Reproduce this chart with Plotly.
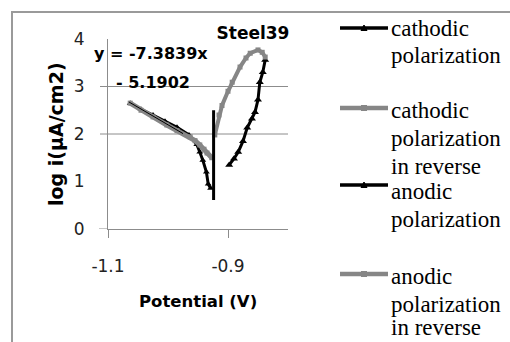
import plotly.graph_objects as go

# ---------------- data ----------------
cath_v = [-1.063, -1.045, -1.025, -1.005, -0.985, -0.965, -0.952, -0.947, -0.942, -0.936, -0.933, -0.929]
cath_log = [2.65, 2.52, 2.40, 2.27, 2.14, 1.98, 1.78, 1.62, 1.45, 1.20, 0.95, 0.86]

cath_rev_v = [-1.063, -1.045, -1.025, -1.002, -0.985, -0.963, -0.955, -0.947, -0.940, -0.935, -0.927]
cath_rev_log = [2.65, 2.50, 2.36, 2.19, 2.07, 1.94, 1.86, 1.77, 1.68, 1.60, 1.50]

anod_v = [-0.898, -0.890, -0.883, -0.875, -0.868, -0.860, -0.855, -0.850, -0.847, -0.842, -0.838]
anod_log = [1.35, 1.48, 1.62, 1.85, 2.13, 2.32, 2.46, 2.72, 3.09, 3.30, 3.56]

anod_rev_v = [-0.922, -0.915, -0.910, -0.900, -0.893, -0.880, -0.870, -0.863, -0.850, -0.843, -0.838]
anod_rev_log = [1.98, 2.40, 2.60, 2.90, 3.09, 3.41, 3.60, 3.70, 3.77, 3.72, 3.62]

ecorr_v = [-0.924, -0.924]
ecorr_log = [0.61, 2.50]

trend_slope = -7.3839
trend_intercept = -5.1902
trend_v = [-1.065, -0.975]
trend_log = [trend_slope * v + trend_intercept for v in trend_v]

series_names = [
    "cathodic polarization",
    "cathodic polarization in reverse",
    "anodic polarization",
    "anodic polarization in reverse",
]
legend_lines = [
    ["cathodic", "polarization"],
    ["cathodic", "polarization", "in reverse"],
    ["anodic", "polarization"],
    ["anodic", "polarization", "in reverse"],
]
chart_title = "Steel39"
x_title = "Potential (V)"
y_title = "log i(µA/cm2)"
eq_line1 = "y = -7.3839x"
eq_line2 = "- 5.1902"
x_ticks = [-1.1, -0.9]
x_tick_text = ["-1.1", "-0.9"]
y_ticks = [0, 1, 2, 3, 4]
grid_levels = [2, 3]

BLACK = "#000000"
GRAY = "#868686"
AXIS = "#8c8c8c"

# pixel helpers (plot area: x 108..288, y 39..229)
L, R, T, B = 108, 288, 39, 229
def px(x):
    return (x - L) / (R - L)
def py(y):
    return (B - y) / (B - T)

fig = go.Figure()
fig.add_trace(go.Scatter(x=cath_v, y=cath_log, name=series_names[0], mode="lines+markers",
                         line=dict(color=BLACK, width=3),
                         marker=dict(symbol="triangle-up", size=6, color=BLACK)))
fig.add_trace(go.Scatter(x=cath_rev_v, y=cath_rev_log, name=series_names[1], mode="lines+markers",
                         line=dict(color=GRAY, width=5),
                         marker=dict(symbol="square", size=5, color=GRAY)))
fig.add_trace(go.Scatter(x=anod_v, y=anod_log, name=series_names[2], mode="lines+markers",
                         line=dict(color=BLACK, width=3),
                         marker=dict(symbol="triangle-up", size=7, color=BLACK)))
fig.add_trace(go.Scatter(x=anod_rev_v, y=anod_rev_log, name=series_names[3], mode="lines+markers",
                         line=dict(color=GRAY, width=4),
                         marker=dict(symbol="square", size=5, color=GRAY)))
fig.add_trace(go.Scatter(x=trend_v, y=trend_log, mode="lines", showlegend=False,
                         line=dict(color=BLACK, width=1)))
fig.add_trace(go.Scatter(x=ecorr_v, y=ecorr_log, mode="lines", showlegend=False,
                         line=dict(color=BLACK, width=3)))

def bold(size):
    return dict(family="DejaVu Sans", size=size, color="black", weight="bold")

shapes = []
annotations = []
# outer chart border (top and left visible)
shapes.append(dict(type="rect", xref="paper", yref="paper", x0=px(12), x1=px(530), y0=py(360), y1=py(12),
                   line=dict(color="#9a9a9a", width=2), layer="below"))
for g in grid_levels:
    shapes.append(dict(type="line", xref="paper", yref="y", x0=px(100), x1=1, y0=g, y1=g,
                       line=dict(color=AXIS, width=1), layer="below"))
shapes.append(dict(type="line", xref="paper", yref="y", x0=px(99), x1=0, y0=0, y1=0,
                   line=dict(color=AXIS, width=1), layer="below"))

# manual legend (Excel-style, text overflowing the chart bottom)
sym_y = [28, 108, 185, 274]
txt_y = [28, 110, 191, 276]
line_step = 28
styles = [
    (BLACK, 3.5, "tri"),
    (GRAY, 4.5, "sq"),
    (BLACK, 3.5, "tri"),
    (GRAY, 4.5, "sq"),
]
for i, lines in enumerate(legend_lines):
    col, w, mk = styles[i]
    shapes.append(dict(type="line", xref="paper", yref="paper", x0=px(340), x1=px(388),
                       y0=py(sym_y[i]), y1=py(sym_y[i]), line=dict(color=col, width=w)))
    cx, cy = 364, sym_y[i]
    if mk == "tri":
        path = "M {} {} L {} {} L {} {} Z".format(px(cx - 3), py(cy + 2.5), px(cx + 3), py(cy + 2.5),
                                                    px(cx), py(cy - 3))
        shapes.append(dict(type="path", xref="paper", yref="paper", path=path,
                           fillcolor=col, line=dict(color=col, width=1)))
    else:
        shapes.append(dict(type="rect", xref="paper", yref="paper", x0=px(cx - 3), x1=px(cx + 3),
                           y0=py(cy + 3), y1=py(cy - 3), fillcolor=col, line=dict(color=col, width=0)))
    for j, t in enumerate(lines):
        yy = min(txt_y[i] + j * line_step, 327)
        annotations.append(dict(text=t, xref="paper", yref="paper", x=px(389), y=py(yy),
                                xanchor="left", yanchor="middle", showarrow=False,
                                font=dict(family="Liberation Serif", size=23, color="black")))

annotations += [
    dict(text=eq_line1, xref="paper", yref="paper", x=px(92), y=py(53),
         xanchor="left", yanchor="middle", showarrow=False, font=bold(16)),
    dict(text=eq_line2, xref="paper", yref="paper", x=px(114), y=py(82),
         xanchor="left", yanchor="middle", showarrow=False, font=bold(16)),
    dict(text=x_title, xref="paper", yref="paper", x=px(198), y=py(301),
         xanchor="center", yanchor="middle", showarrow=False, font=bold(16.5)),
    dict(text=y_title, xref="paper", yref="paper", x=px(56), y=py(134), textangle=-90,
         xanchor="center", yanchor="middle", showarrow=False, font=bold(19)),
]

tickfont = dict(family="DejaVu Sans", size=17, color="#222")

fig.update_layout(
    width=510, height=342,
    margin=dict(l=L, r=510 - R, t=T, b=342 - B),
    paper_bgcolor="white", plot_bgcolor="white",
    showlegend=False,
    hovermode=False,
    shapes=shapes,
    annotations=annotations,
    title=dict(text=chart_title, x=253 / 510, xanchor="center", y=1 - 33 / 342, yanchor="middle",
               xref="container", yref="container", font=bold(17)),
    xaxis=dict(range=[-1.1, -0.8], tickvals=x_ticks, ticktext=x_tick_text, automargin=False,
               showgrid=False, zeroline=False, showline=True, linecolor=AXIS, linewidth=1,
               ticks="outside", ticklen=8, tickcolor=AXIS, ticklabelstandoff=14,
               tickfont=tickfont),
    yaxis=dict(range=[0, 4], tickvals=y_ticks, showgrid=False, zeroline=False, automargin=False,
               showline=True, linecolor=AXIS, linewidth=1,
               ticks="outside", ticklen=8, tickcolor="rgba(0,0,0,0)", ticklabelstandoff=11,
               tickfont=tickfont),
)

fig.write_html("out.html", config={"displayModeBar": False},
               post_script="document.body.style.margin='0';")
